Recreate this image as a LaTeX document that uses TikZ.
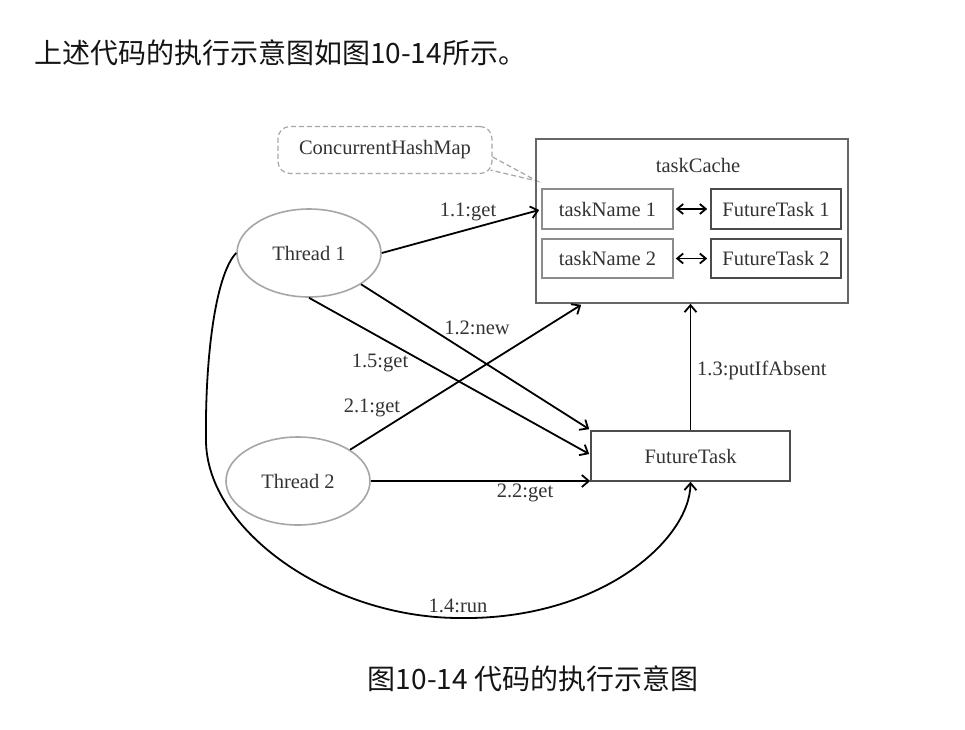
\documentclass[tikz,border=0pt]{standalone}
\usepackage{fontspec}
\setmainfont{Liberation Serif}
\newfontfamily\cjk{Noto Sans CJK SC}
\usetikzlibrary{arrows.meta,calc,shapes.geometric}
\begin{document}
\begin{tikzpicture}[x=1pt,y=-1pt,
  lbl/.style={font=\fontsize{20.5}{24}\selectfont, text=black!80, inner sep=0},
  box/.style={draw, line width=1.6pt, inner sep=0, font=\fontsize{20.5}{24}\selectfont, text=black!80},
  ell/.style={ellipse, draw=black!35, line width=1.6pt, minimum width=144pt, minimum height=88pt, inner sep=0, font=\fontsize{20.5}{24}\selectfont, text=black!80},
  arr/.style={line width=1.8pt, -{Straight Barb[length=7pt,width=12pt]}},
  darr/.style={line width=1.8pt, {Straight Barb[length=6pt,width=10pt]}-{Straight Barb[length=6pt,width=10pt]}, shorten <=2pt, shorten >=3pt},
  cjkt/.style={font=\cjk\fontsize{28}{32}\selectfont, text=black!92, inner sep=0},
  callline/.style={draw=black!35, dashed, line width=1.2pt, dash pattern=on 5pt off 3pt}
]
\path[use as bounding box, fill=white] (0,0) rectangle (965,729);

% header and caption
\node[cjkt, anchor=west] (hdr) at (34,53) {上述代码的执行示意图如图10-14所示。};
\node[cjkt] (cap) at (533,679) {图10-14 代码的执行示意图};

% ConcurrentHashMap callout
\node[lbl, draw=black!35, dashed, dash pattern=on 5pt off 3pt, line width=1.2pt, rounded corners=12pt, minimum width=214pt, minimum height=47pt] (chm) at (385,150) {ConcurrentHashMap};
\coordinate (ptr) at (537,181);
\draw[callline] ($(chm.east)+(0,7)$) -- (ptr) -- ($(chm.south east)+(-2,-4)$);

% taskCache
\node[box, draw=black!60, minimum width=312pt, minimum height=164pt] (tc) at (692,221) {};
\node[lbl] (tcl) at (698,165) {taskCache};
\node[box, draw=black!45, minimum width=131pt, minimum height=40pt] (tn1) at (607.5,209) {taskName 1};
\node[box, draw=black!70, minimum width=130pt, minimum height=40pt] (ft1) at (776,209) {FutureTask 1};
\node[box, draw=black!45, minimum width=131pt, minimum height=39pt] (tn2) at (607.5,258.5) {taskName 2};
\node[box, draw=black!70, minimum width=130pt, minimum height=39pt] (ft2) at (776,258.5) {FutureTask 2};
\draw[darr] (tn1.east) -- (ft1.west);
\draw[darr] (tn2.east) -- (ft2.west);

% threads and future task
\node[ell] (t1) at (309,253) {Thread 1};
\node[ell] (t2) at (298,481) {Thread 2};
\node[box, draw=black!70, minimum width=199pt, minimum height=50pt] (ft) at (690.5,456) {FutureTask};

% connectors
\draw[arr] (t1.east) -- ($(tn1.west)+(-2,1)$);
\draw[arr] (t1.-31.5) -- ($(ft.north west)+(-1,-1)$);
\draw[arr] (t1.south) -- ($(ft.west)+(-1,-2)$);
\draw[arr] (t2.31) -- ($(tc.south west)+(46,1)$);
\draw[arr] (t2.east) -- (t2.east -| ft.west);
\draw[arr] (ft.north) -- (ft.north |- tc.south);
\coordinate (c14a) at (206,440);
\coordinate (c14b) at (460,618);
\draw[arr] (t1.west) .. controls (215,275) and (205,360) .. (c14a)
  .. controls (206,530) and (330,618) .. (c14b)
  .. controls (600,620) and (690,540) .. (ft.south);

% labels
\node[lbl] (l11) at (468,212) {1.1:get};
\node[lbl] (l12) at (477,328) {1.2:new};
\node[lbl] (l15) at (380,363) {1.5:get};
\node[lbl] (l21) at (372,408) {2.1:get};
\node[lbl] (l22) at (525,493) {2.2:get};
\node[lbl, anchor=west] (l13) at (697,370) {1.3:putIfAbsent};
\node[lbl] (l14) at (458,606) {1.4:run};
\end{tikzpicture}
\end{document}
